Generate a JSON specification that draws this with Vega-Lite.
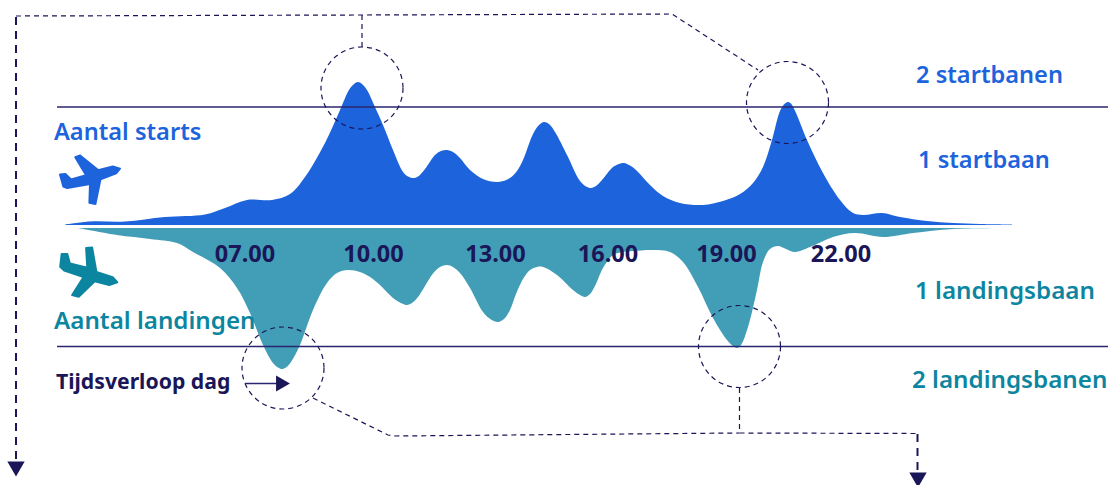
{
"$schema":"https://vega.github.io/schema/vega-lite/v6.json",
"width":1110,"height":485,"padding":0,"autosize":"none",
"background":"white","view":{"stroke":null},
"datasets":{
"starts":[{"t":65,"v":1.5},{"t":90,"v":4.5},{"t":125,"v":4.5},{"t":165,"v":9},{"t":205,"v":11.5},{"t":225,"v":18},{"t":247,"v":26},{"t":272,"v":26},{"t":290,"v":32},{"t":305,"v":49},{"t":325,"v":83},{"t":340,"v":116},{"t":349,"v":136},{"t":354,"v":142},{"t":358,"v":144},{"t":362,"v":142},{"t":367,"v":136},{"t":375,"v":119},{"t":383,"v":101},{"t":393,"v":76},{"t":403,"v":54},{"t":408,"v":49.5},{"t":413,"v":48},{"t":418,"v":49.5},{"t":425,"v":57},{"t":435,"v":71},{"t":441,"v":75},{"t":447,"v":76},{"t":453,"v":74},{"t":460,"v":68},{"t":470,"v":56},{"t":483,"v":47},{"t":498,"v":44},{"t":510,"v":48},{"t":517,"v":55},{"t":523,"v":66},{"t":533,"v":92},{"t":539,"v":101},{"t":544,"v":104},{"t":549,"v":102},{"t":555,"v":94},{"t":567,"v":71},{"t":580,"v":45},{"t":586,"v":39.5},{"t":591,"v":38},{"t":596,"v":40},{"t":602,"v":46},{"t":613,"v":59},{"t":619,"v":62},{"t":624,"v":63},{"t":630,"v":60.5},{"t":637,"v":55},{"t":650,"v":41},{"t":663,"v":30},{"t":680,"v":23},{"t":703,"v":21},{"t":723,"v":25},{"t":740,"v":32},{"t":753,"v":43},{"t":763,"v":59},{"t":772,"v":86},{"t":780,"v":115},{"t":785,"v":122.5},{"t":788,"v":124},{"t":791,"v":122.5},{"t":796,"v":113},{"t":807,"v":86},{"t":823,"v":53},{"t":840,"v":26},{"t":853,"v":13},{"t":863,"v":11},{"t":882,"v":13},{"t":900,"v":9},{"t":927,"v":5},{"t":953,"v":3},{"t":980,"v":2},{"t":1012,"v":1.5}],
"landings":[{"t":78,"v":-2},{"t":117,"v":-9},{"t":150,"v":-13},{"t":177,"v":-17},{"t":193,"v":-26},{"t":220,"v":-42},{"t":237,"v":-62},{"t":250,"v":-87},{"t":263,"v":-119},{"t":273,"v":-137},{"t":278,"v":-141.5},{"t":282,"v":-143},{"t":286,"v":-141.5},{"t":291,"v":-136},{"t":300,"v":-119},{"t":313,"v":-84},{"t":327,"v":-57},{"t":337,"v":-47},{"t":348,"v":-44},{"t":360,"v":-46},{"t":370,"v":-51},{"t":380,"v":-59},{"t":393,"v":-72},{"t":402,"v":-77.5},{"t":407,"v":-79},{"t":412,"v":-77},{"t":418,"v":-71},{"t":425,"v":-60},{"t":433,"v":-47.5},{"t":440,"v":-41},{"t":447,"v":-39},{"t":453,"v":-41},{"t":460,"v":-47},{"t":470,"v":-62},{"t":483,"v":-86},{"t":491,"v":-93.5},{"t":498,"v":-96},{"t":504,"v":-93},{"t":510,"v":-84},{"t":516,"v":-68},{"t":523,"v":-53},{"t":530,"v":-44},{"t":537,"v":-41},{"t":543,"v":-41},{"t":557,"v":-49},{"t":573,"v":-64},{"t":580,"v":-69},{"t":585,"v":-71},{"t":590,"v":-68},{"t":595,"v":-60},{"t":603,"v":-42},{"t":613,"v":-29},{"t":623,"v":-26},{"t":633,"v":-25},{"t":653,"v":-24},{"t":670,"v":-26},{"t":683,"v":-36},{"t":698,"v":-61},{"t":713,"v":-92},{"t":727,"v":-114},{"t":733,"v":-120},{"t":737,"v":-122},{"t":741,"v":-119},{"t":748,"v":-101},{"t":757,"v":-64},{"t":763,"v":-36},{"t":770,"v":-23},{"t":778,"v":-20},{"t":786,"v":-23},{"t":795,"v":-26},{"t":810,"v":-21},{"t":833,"v":-11},{"t":855,"v":-7},{"t":883,"v":-11},{"t":913,"v":-7},{"t":953,"v":-3},{"t":1012,"v":-2}],
"capacity":[{"id":"a","t":57,"v":119},{"id":"a","t":1108,"v":119},{"id":"b","t":57,"v":-120.5},{"id":"b","t":1108,"v":-120.5}],
"peaks":[{"t":362,"v":138},{"t":787.5,"v":123.5},{"t":283,"v":-142},{"t":739.5,"v":-120.5}],
"thin":[{"id":"a","s":1,"t":16,"v":210},{"id":"a","s":2,"t":362,"v":211},{"id":"a","s":3,"t":672,"v":212},{"id":"a","s":4,"t":758,"v":156},{"id":"b","s":1,"t":362,"v":211},{"id":"b","s":2,"t":362,"v":179},{"id":"c","s":1,"t":313,"v":-172},{"id":"c","s":2,"t":388,"v":-209},{"id":"c","s":3,"t":396,"v":-210},{"id":"c","s":4,"t":739.5,"v":-207},{"id":"d","s":1,"t":739.5,"v":-162},{"id":"d","s":2,"t":739.5,"v":-207},{"id":"e","s":1,"t":739.5,"v":-207},{"id":"e","s":2,"t":917.5,"v":-207.5}],
"thick":[{"id":"f","s":1,"t":16,"v":209},{"id":"f","s":2,"t":16,"v":-234},{"id":"g","s":1,"t":917.5,"v":-208},{"id":"g","s":2,"t":917.5,"v":-246},{"id":"h","s":1,"t":245,"v":-157.5},{"id":"h","s":2,"t":278,"v":-157.5}],
"downArrows":[{"t":16,"v":-243},{"t":918,"v":-254}],
"timeArrow":[{"t":283,"v":-157.5}],
"planeUp":[{"t":90,"v":46}],
"planeDown":[{"t":88.7,"v":-46}],
"blueText":[{"t":916,"v":143,"label":"2 startbanen"},{"t":918,"v":58,"label":"1 startbaan"},{"t":54,"v":86,"label":"Aantal starts"}],
"tealText":[{"t":915,"v":-73,"label":"1 landingsbaan"},{"t":912,"v":-162,"label":"2 landingsbanen"},{"t":54,"v":-103,"label":"Aantal landingen"}],
"hours":[{"t":245,"v":-36,"label":"07.00"},{"t":373.5,"v":-36,"label":"10.00"},{"t":495.5,"v":-36,"label":"13.00"},{"t":608,"v":-36,"label":"16.00"},{"t":726.5,"v":-36,"label":"19.00"},{"t":841,"v":-36,"label":"22.00"}],
"note":[{"t":56,"v":-163,"label":"Tijdsverloop dag"}]
},
"encoding":{
"x":{"field":"t","type":"quantitative","scale":{"domain":[0,1110],"nice":false,"zero":false},"axis":null},
"y":{"field":"v","type":"quantitative","scale":{"domain":[-259,226],"nice":false,"zero":false},"axis":null}
},
"layer":[
{"data":{"name":"starts"},"mark":{"type":"area","interpolate":"catmull-rom","color":"#1c63dc"},"encoding":{"y2":{"datum":1}}},
{"data":{"name":"landings"},"mark":{"type":"area","interpolate":"catmull-rom","color":"#429eb7"},"encoding":{"y2":{"datum":-2}}},
{"data":{"name":"capacity"},"mark":{"type":"line","color":"#29266f","strokeWidth":1.5},"encoding":{"detail":{"field":"id"}}},
{"data":{"name":"peaks"},"mark":{"type":"point","shape":"circle","filled":false,"size":6724,"stroke":"#1a1657","strokeWidth":1.2,"strokeDash":[5,4],"opacity":1}},
{"data":{"name":"thin"},"mark":{"type":"line","color":"#1a1657","strokeWidth":1.2,"strokeDash":[5,4]},"encoding":{"detail":{"field":"id"},"order":{"field":"s"}}},
{"data":{"name":"thick"},"transform":[{"filter":"datum.id!='h'"}],"mark":{"type":"line","color":"#1a1657","strokeWidth":2,"strokeDash":[8,6]},"encoding":{"detail":{"field":"id"},"order":{"field":"s"}}},
{"data":{"name":"thick"},"transform":[{"filter":"datum.id=='h'"}],"mark":{"type":"line","color":"#29266f","strokeWidth":1.5},"encoding":{"order":{"field":"s"}}},
{"data":{"name":"downArrows"},"mark":{"type":"point","shape":"triangle-down","filled":true,"size":300,"color":"#1a1657","opacity":1}},
{"data":{"name":"timeArrow"},"mark":{"type":"point","shape":"triangle-right","filled":true,"size":256,"color":"#1a1657","opacity":1}},
{"data":{"name":"planeUp"},"mark":{"type":"point","filled":true,"size":3600,"color":"#1c63dc","stroke":"#1c63dc","strokeWidth":2,"strokeJoin":"round","opacity":1,"shape":"M1 -0.38 L0.76 -0.45 L0.27 -0.33 L-0.33 -0.82 L-0.49 -0.76 L-0.13 -0.16 L-0.63 -0.02 L-0.82 -0.2 L-1 -0.18 L-0.89 0.22 L-0.76 0.27 L0 0.13 L-0.02 0.76 L0.18 0.8 L0.35 -0.02 L0.87 -0.22 Z"}},
{"data":{"name":"planeDown"},"mark":{"type":"point","filled":true,"size":3249,"color":"#0b85a0","stroke":"#0b85a0","strokeWidth":2,"strokeJoin":"round","opacity":1,"shape":"M1 0.36 L0.84 0.18 L0.27 0 L0.12 -0.86 L-0.09 -0.84 L-0.05 -0.15 L-0.66 -0.3 L-0.75 -0.63 L-0.95 -0.63 L-1 -0.18 L-0.86 -0.05 L-0.18 0.18 L-0.58 0.81 L-0.35 0.87 L0.21 0.33 L0.72 0.46 Z"}},
{"data":{"name":"blueText"},"mark":{"type":"text","align":"left","baseline":"alphabetic","font":"Noto Sans","fontWeight":600,"fontSize":23.6,"color":"#1c63dc"},"encoding":{"text":{"field":"label"}}},
{"data":{"name":"tealText"},"mark":{"type":"text","align":"left","baseline":"alphabetic","font":"Noto Sans","fontWeight":600,"fontSize":24.2,"color":"#0b85a0"},"encoding":{"text":{"field":"label"}}},
{"data":{"name":"hours"},"mark":{"type":"text","align":"center","baseline":"alphabetic","font":"Noto Sans","fontWeight":700,"fontSize":23.5,"color":"#1a1657"},"encoding":{"text":{"field":"label"}}},
{"data":{"name":"note"},"mark":{"type":"text","align":"left","baseline":"alphabetic","font":"Noto Sans","fontWeight":700,"fontSize":21.2,"color":"#1a1657"},"encoding":{"text":{"field":"label"}}}
]
}
